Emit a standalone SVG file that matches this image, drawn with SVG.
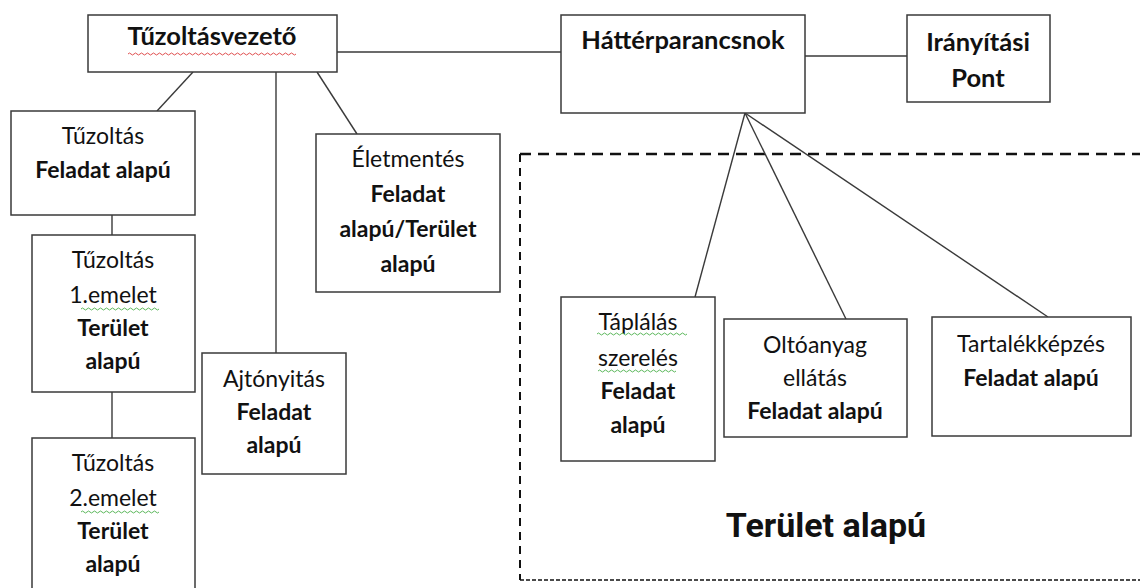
<svg xmlns="http://www.w3.org/2000/svg" width="1140" height="588" viewBox="0 0 1140 588">
<style>
.box{fill:#fff;stroke:#3a3a3a;stroke-width:1.5}
.ln{stroke:#3a3a3a;stroke-width:1.4;fill:none}
text{font-family:Lato,"Liberation Sans",sans-serif;font-size:23px;fill:#111;text-anchor:middle}
.b{font-weight:bold}
.h{font-size:25.5px}
.big{font-family:Roboto,"Liberation Sans",sans-serif;font-size:34px;font-weight:bold}
.sqg{fill:none;stroke:#5cb85c;stroke-width:1}
.sqr{fill:none;stroke:#e05050;stroke-width:1}
</style>
<rect width="1140" height="588" fill="#fff"/>
<g id="area">
<line x1="520" y1="154" x2="1140" y2="154" stroke="#111" stroke-width="2.5" stroke-dasharray="11 7"/>
<line x1="520" y1="154" x2="520" y2="580" stroke="#111" stroke-width="2" stroke-dasharray="8 6"/>
<line x1="520" y1="580" x2="1140" y2="580" stroke="#111" stroke-width="1.5" stroke-dasharray="4 2"/>
<text class="big" x="826" y="537">Terület alapú</text>
</g>
<g id="connectors">
<line class="ln" x1="337" y1="52" x2="561" y2="52"/>
<line class="ln" x1="805" y1="56" x2="907" y2="56"/>
<line class="ln" x1="193" y1="72" x2="157" y2="111"/>
<line class="ln" x1="276" y1="72" x2="276" y2="353"/>
<line class="ln" x1="317" y1="72" x2="357" y2="134"/>
<line class="ln" x1="112" y1="215" x2="112" y2="235"/>
<line class="ln" x1="112" y1="392" x2="112" y2="438"/>
<line class="ln" x1="745" y1="113" x2="695" y2="297"/>
<line class="ln" x1="745" y1="113" x2="846" y2="319"/>
<line class="ln" x1="745" y1="113" x2="1048" y2="317"/>
</g>
<g id="tuzoltasvezeto">
<rect class="box" x="88" y="15" width="249" height="57"/>
<text class="b h" x="212" y="45">Tűzoltásvezető</text>
<path class="sqr" d="M128 54 q1.5 -2 3 0 t3 0 t3 0 t3 0 t3 0 t3 0 t3 0 t3 0 t3 0 t3 0 t3 0 t3 0 t3 0 t3 0 t3 0 t3 0 t3 0 t3 0 t3 0 t3 0 t3 0 t3 0 t3 0 t3 0 t3 0 t3 0 t3 0 t3 0 t3 0 t3 0 t3 0 t3 0 t3 0 t3 0 t3 0 t3 0 t3 0 t3 0 t3 0 t3 0 t3 0 t3 0 t3 0 t3 0 t3 0 t3 0 t3 0 t3 0 t3 0 t3 0 t3 0 t3 0 t3 0 t3 0 t3 0 t3 0"/>
</g>
<g id="hatterparancsnok">
<rect class="box" x="561" y="15" width="244" height="98"/>
<text class="b h" x="683" y="49">Háttérparancsnok</text>
</g>
<g id="iranyitasi">
<rect class="box" x="907" y="15" width="143" height="87"/>
<text class="b h" x="978" y="51">Irányítási</text>
<text class="b h" x="978" y="87">Pont</text>
</g>
<g id="tuzoltas">
<rect class="box" x="11" y="111" width="184" height="104"/>
<text x="103" y="144">Tűzoltás</text>
<text class="b" x="103" y="178">Feladat alapú</text>
</g>
<g id="tuzoltas1">
<rect class="box" x="32" y="235" width="163" height="157"/>
<text x="113" y="268">Tűzoltás</text>
<text x="113" y="303">1.emelet</text>
<path class="sqg" d="M81 309 q1.5 -2 3 0 t3 0 t3 0 t3 0 t3 0 t3 0 t3 0 t3 0 t3 0 t3 0 t3 0 t3 0 t3 0 t3 0 t3 0 t3 0 t3 0 t3 0 t3 0 t3 0 t3 0 t3 0 t3 0 t3 0 t3 0 t3 0"/>
<text class="b" x="113" y="336">Terület</text>
<text class="b" x="113" y="369">alapú</text>
</g>
<g id="tuzoltas2">
<rect class="box" x="32" y="438" width="163" height="160"/>
<text x="113" y="471">Tűzoltás</text>
<text x="113" y="506">2.emelet</text>
<path class="sqg" d="M81 512 q1.5 -2 3 0 t3 0 t3 0 t3 0 t3 0 t3 0 t3 0 t3 0 t3 0 t3 0 t3 0 t3 0 t3 0 t3 0 t3 0 t3 0 t3 0 t3 0 t3 0 t3 0 t3 0 t3 0 t3 0 t3 0 t3 0 t3 0"/>
<text class="b" x="113" y="539">Terület</text>
<text class="b" x="113" y="572">alapú</text>
</g>
<g id="ajtonyitas">
<rect class="box" x="202" y="353" width="144" height="121"/>
<text x="274" y="387">Ajtónyitás</text>
<text class="b" x="274" y="420">Feladat</text>
<text class="b" x="274" y="453">alapú</text>
</g>
<g id="eletmentes">
<rect class="box" x="316" y="134" width="184" height="158"/>
<text x="408" y="167">Életmentés</text>
<text class="b" x="408" y="202">Feladat</text>
<text class="b" x="408" y="237">alapú/Terület</text>
<text class="b" x="408" y="272">alapú</text>
</g>
<g id="taplalas">
<rect class="box" x="561" y="297" width="154" height="164"/>
<text x="638" y="330">Táplálás</text>
<path class="sqg" d="M597 334 q1.5 -2 3 0 t3 0 t3 0 t3 0 t3 0 t3 0 t3 0 t3 0 t3 0 t3 0 t3 0 t3 0 t3 0 t3 0 t3 0 t3 0 t3 0 t3 0 t3 0 t3 0 t3 0 t3 0 t3 0 t3 0 t3 0 t3 0 t3 0 t3 0 t3 0 t3 0"/>
<text x="638" y="366">szerelés</text>
<path class="sqg" d="M598 371 q1.5 -2 3 0 t3 0 t3 0 t3 0 t3 0 t3 0 t3 0 t3 0 t3 0 t3 0 t3 0 t3 0 t3 0 t3 0 t3 0 t3 0 t3 0 t3 0 t3 0 t3 0 t3 0 t3 0 t3 0 t3 0 t3 0 t3 0"/>
<text class="b" x="638" y="399">Feladat</text>
<text class="b" x="638" y="433">alapú</text>
</g>
<g id="oltoanyag">
<rect class="box" x="724" y="319" width="183" height="118"/>
<text x="815" y="353">Oltóanyag</text>
<text x="815" y="386">ellátás</text>
<text class="b" x="815" y="419">Feladat alapú</text>
</g>
<g id="tartalekkepzes">
<rect class="box" x="932" y="317" width="199" height="119"/>
<text x="1031" y="352">Tartalékképzés</text>
<text class="b" x="1031" y="386">Feladat alapú</text>
</g>
</svg>
